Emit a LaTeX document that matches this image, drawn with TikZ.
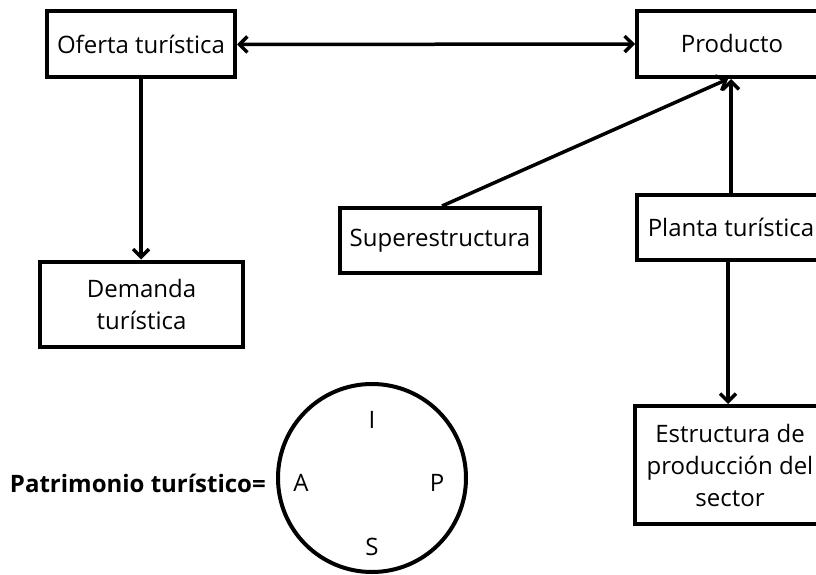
\documentclass[tikz,border=0pt]{standalone}
\usepackage{fontspec}
\setmainfont{Open Sans}
\usetikzlibrary{arrows.meta}
\begin{document}
\begin{tikzpicture}[x=1pt,y=-1pt,
  box/.style={draw=black, line width=4pt, align=center, inner sep=0pt, font=\fontsize{24}{32}\selectfont, fill=white},
  tip/.style={Straight Barb[length=8pt,width=16pt,line width=3.5pt]},
  conn/.style={line width=3.5pt, -{Straight Barb[length=8pt,width=16pt,line width=3.5pt]}},
  conn2/.style={line width=3.5pt, {Straight Barb[length=8pt,width=16pt,line width=3.5pt]}-{Straight Barb[length=8pt,width=16pt,line width=3.5pt]}},
  lbl/.style={font=\fontsize{24}{28}\selectfont, inner sep=0pt}]
\useasboundingbox (0,0) rectangle (816,575);
\clip (0,0) rectangle (816,575);
\fill[white] (0,0) rectangle (816,575);
\node[box, minimum width=188pt, minimum height=66pt] (oferta) at (141,44.5) {Oferta turística};
\node[box, minimum width=190pt, minimum height=66pt] (producto) at (732,44) {Producto};
\node[box, minimum width=203pt, minimum height=85pt] (demanda) at (141.5,304) {Demanda\\turística};
\node[box, minimum width=200pt, minimum height=65pt] (super) at (440,240.5) {Superestructura};
\node[box, minimum width=188pt, minimum height=65pt] (planta) at (731,227.5) {Planta turística};
\node[box, minimum width=190pt, minimum height=118pt] (estructura) at (730,465) {Estructura de\\producción del\\sector};
\node[draw=black, line width=4pt, circle, minimum size=188pt, inner sep=0pt] (circ) at (372,478) {};
\node[lbl] (li) at (372,420) {I};
\node[lbl] (la) at (301,483) {A};
\node[lbl] (lp) at (437,483) {P};
\node[lbl] (ls) at (372,547) {S};
\node[lbl, font=\fontsize{24}{28}\selectfont\bfseries, anchor=east] (patri) at (266,483) {Patrimonio turístico=};
\draw[conn2] (oferta.east) -- (producto.west);
\draw[conn] (oferta.south) -- (oferta.south |- demanda.north);
\coordinate (ptarget) at ([xshift=-4pt]producto.south);
\draw[conn] ([xshift=2pt]super.north) -- (ptarget);
\draw[conn] (planta.north) -- (planta.north |- producto.south);
\draw[conn] ([xshift=-3pt]planta.south) -- ([xshift=-3pt]planta.south |- estructura.north);
\end{tikzpicture}
\end{document}
